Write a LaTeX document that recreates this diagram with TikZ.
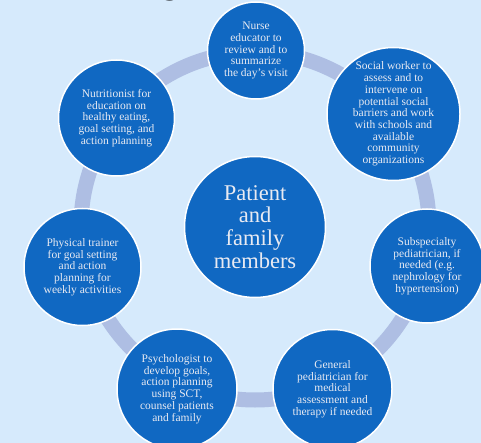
\documentclass[tikz,border=0pt]{standalone}
\usepackage{fontspec}
\setmainfont{Liberation Serif}
\definecolor{bg}{HTML}{D6EAFC}
\definecolor{ringc}{HTML}{AEBEE3}
\definecolor{nodefill}{HTML}{1068C2}
\definecolor{txt}{HTML}{E8EAF2}
\tikzset{
  member/.style={circle, fill=nodefill, draw=white, line width=1.5pt, inner sep=0pt,
    align=center, text=txt, font=\fontsize{11.5}{11.7}\selectfont},
  hub/.style={member, font=\fontsize{22.5}{22.7}\selectfont},
  ringline/.style={draw=ringc, line width=15pt}
}
\begin{document}
\begin{tikzpicture}[x=1pt,y=-1pt]
\useasboundingbox (0,0) rectangle (481,443);
\clip (0,0) rectangle (481,443);
\fill[bg] (0,0) rectangle (481,443);
\node[anchor=base, text=black, font=\fontsize{40}{40}\selectfont\itshape, inner sep=0pt] (title) at (173,-7) {g};
\coordinate (ringcenter) at (255,226);
\draw[ringline] (ringcenter) circle[radius=174];
\node[hub, minimum size=141pt] (patient) at (255,227) {Patient\\and\\family\\members};
\node[member, minimum size=97pt] (nurse) at (256,50.5) {Nurse\\educator to\\review and to\\summarize\\the day's visit};
\node[member, minimum size=133pt] (social) at (393.5,114) {Social worker to\\assess and to\\intervene on\\potential social\\barriers and work\\with schools and\\available\\community\\organizations};
\node[member, minimum size=114pt] (subspec) at (427,266) {Subspecialty\\pediatrician, if\\needed (e.g.\\nephrology for\\hypertension)};
\node[member, minimum size=119pt] (general) at (332.5,389) {General\\pediatrician for\\medical\\assessment and\\therapy if needed};
\node[member, minimum size=120pt] (psych) at (177,389) {Psychologist to\\develop goals,\\action planning\\using SCT,\\counsel patients\\and family};
\node[member, minimum size=117pt] (physical) at (82.5,267) {Physical trainer\\for goal setting\\and action\\planning for\\weekly activities};
\node[member, minimum size=116pt] (nutrition) at (116.5,118) {Nutritionist for\\education on\\healthy eating,\\goal setting, and\\action planning};
\end{tikzpicture}
\end{document}
